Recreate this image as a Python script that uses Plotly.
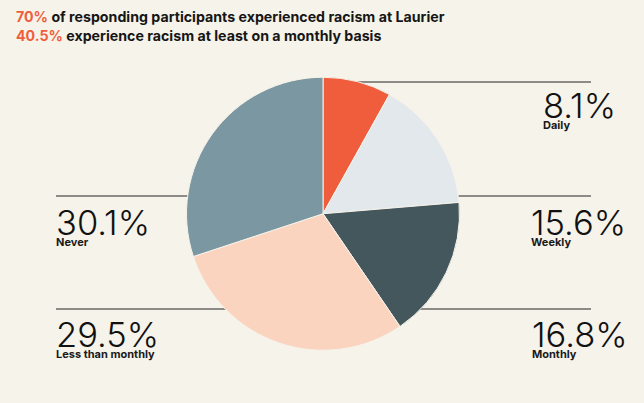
import plotly.graph_objects as go

W, H = 644, 403

categories = ['Daily', 'Weekly', 'Monthly', 'Less than monthly', 'Never']
shares = [8.1, 15.6, 16.8, 29.5, 30.1]
colors = ['#f05d3d', '#e3e8ec', '#43575c', '#fbd4c0', '#7a97a2']

title_hi = ['70%', '40.5%']
title_rest = [' of responding participants experienced racism at Laurier',
              ' experience racism at least on a monthly basis']

# label block placement in pixels: (left x, cap centre y)
label_pos = {
    'Daily': (541, 102),
    'Weekly': (529, 219),
    'Monthly': (530, 331),
    'Never': (54, 219),
    'Less than monthly': (54, 331),
}
# leader lines in pixels: (x0, x1, y)
leader = {
    'Daily': (330, 591, 82),
    'Weekly': (420, 591, 196),
    'Monthly': (400, 591, 309),
    'Never': (56, 250, 196),
    'Less than monthly': (56, 260, 309),
}


def px(x):
    return x / W


def py(y):
    return 1 - y / H


fig = go.Figure(go.Pie(
    labels=categories,
    values=shares,
    sort=False,
    direction='clockwise',
    rotation=0,
    marker=dict(colors=colors, line=dict(color='#f6f3ea', width=1)),
    textinfo='none',
    hoverinfo='label+percent',
    domain=dict(x=[px(186.5), px(459.5)], y=[py(350.5), py(77)]),
))

shapes = []
for cat in categories:
    x0, x1, y = leader[cat]
    shapes.append(dict(type='line', xref='paper', yref='paper', layer='below',
                       x0=px(x0), x1=px(x1), y0=py(y), y1=py(y),
                       line=dict(color='#8e8b86', width=2)))

annotations = []
for cat, val in zip(categories, shares):
    x, yc = label_pos[cat]
    annotations.append(dict(
        xref='paper', yref='paper', x=px(x), y=py(yc + 3),
        xanchor='left', yanchor='middle', showarrow=False,
        text=f'{val}%',
        font=dict(family='Inter', size=34.5, color='#111111', weight=300)))
    annotations.append(dict(
        xref='paper', yref='paper', x=px(x), y=py(yc + 23),
        xanchor='left', yanchor='middle', showarrow=False,
        text=cat,
        font=dict(family='Inter', size=11, color='#1a1a1a', weight=700)))

for i, (hi, rest) in enumerate(zip(title_hi, title_rest)):
    annotations.append(dict(
        xref='paper', yref='paper', x=px(14), y=py(16.5 + i * 18.5),
        xanchor='left', yanchor='middle', showarrow=False,
        text=f"<span style='color:#f05d3d'>{hi}</span>{rest}",
        font=dict(family='Inter', size=14.2, color='#161616', weight=700)))

fig.update_layout(
    width=W, height=H,
    margin=dict(l=0, r=0, t=0, b=0),
    paper_bgcolor='#f6f3ea',
    plot_bgcolor='#f6f3ea',
    showlegend=False,
    shapes=shapes,
    annotations=annotations,
)

fig.write_html('out.html', config={'displayModeBar': False},
               post_script="document.body.style.margin='0';")
